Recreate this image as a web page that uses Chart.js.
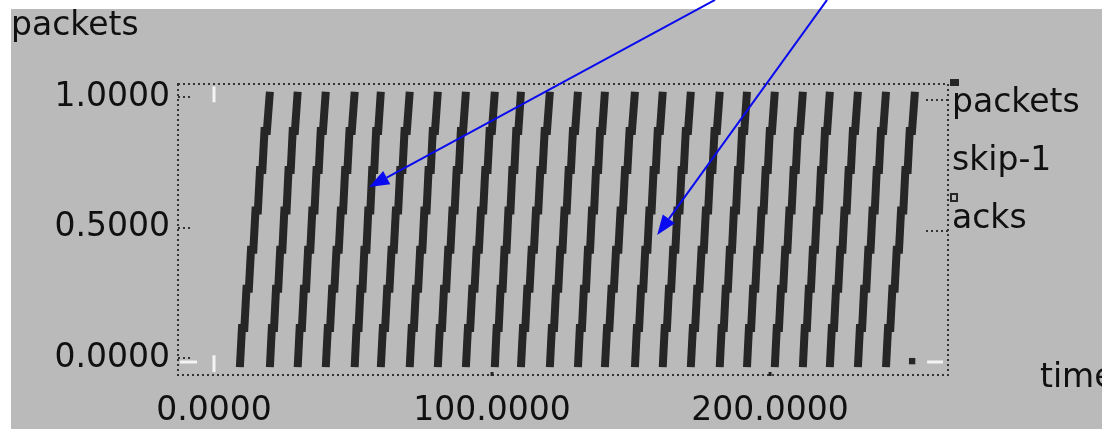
<!DOCTYPE html>
<html>
<head>
<meta charset="utf-8">
<script src="https://cdn.jsdelivr.net/npm/chart.js@4/dist/chart.umd.min.js"></script>
<style>
html,body{margin:0;padding:0;background:#fff;overflow:hidden;}
canvas{display:block;}
</style>
</head>
<body>
<canvas id="c" width="1102" height="429"></canvas>
<script>
// ---- data ----
const rampStarts = [9.3, 20.1, 30.1, 40.2, 50.6, 60.0, 70.4, 80.5, 90.6, 101.0, 110.4, 120.8,
                    130.9, 140.6, 151.4, 161.4, 171.5, 181.9, 191.7, 201.7, 211.8, 221.5, 231.6, 241.7];
const rampEnds   = [20.1, 30.1, 40.2, 50.6, 60.0, 70.4, 80.5, 90.6, 101.0, 110.4, 120.8, 130.9,
                    140.6, 151.4, 161.4, 171.5, 181.9, 191.7, 201.7, 211.8, 221.5, 231.6, 241.7, 252.1];
// each ramp is a staircase of 7 slightly slanted segments
const segBottomFrac = [0, 0.15, 0.30, 0.45, 0.60, 0.75, 0.90];
const segTopFrac    = [0.07, 0.22, 0.37, 0.52, 0.67, 0.82, 1.00];
const stepLevels    = [-0.035, 0.115, 0.265, 0.415, 0.565, 0.72, 0.87, 1.02];
const endMarker = [{x: 251.1, y: -0.012}];
const ackSegments = [
  [{x: 0, y: 1.04}, {x: 0, y: 0.98}],
  [{x: 0, y: 0.011}, {x: 0, y: -0.054}],
  [{x: -12.2, y: -0.015}, {x: -6.1, y: -0.015}],
  [{x: 256.5, y: -0.015}, {x: 262.2, y: -0.015}]
];
const xTicks = [0, 100, 200];
const yTicks = [0, 0.5, 1.0];
const legendLabels = ['packets', 'skip-1', 'acks'];
const arrows = [
  {from: {x: 180.2, y: 1.372}, to: {x: 55.8, y: 0.655}},
  {from: {x: 220.5, y: 1.372}, to: {x: 159.4, y: 0.471}}
];

// ---- build library data ----
const packetPts = [];
rampStarts.forEach((s, i) => {
  const e = rampEnds[i];
  for (let j = 0; j < segBottomFrac.length; j++) {
    packetPts.push({x: s + (e - s) * segBottomFrac[j], y: stepLevels[j]});
    packetPts.push({x: s + (e - s) * segTopFrac[j], y: stepLevels[j + 1]});
  }
  packetPts.push({x: e, y: null});
});
const ackPts = [];
ackSegments.forEach(seg => { ackPts.push(seg[0], seg[1], {x: seg[1].x, y: null}); });

const FONT = "'DejaVu Sans', 'Liberation Sans', Arial, sans-serif";
const TXT = '#101010';

const bgPlugin = {
  id: 'bg',
  beforeDraw(chart) {
    const c = chart.ctx;
    c.save();
    c.fillStyle = '#ffffff';
    c.fillRect(0, 0, chart.width, chart.height);
    c.fillStyle = '#bababa';
    c.fillRect(11, 9, chart.width - 11, chart.height - 9);
    c.restore();
  }
};

const overlayPlugin = {
  id: 'overlay',
  beforeDatasetsDraw(chart) {
    const c = chart.ctx, a = chart.chartArea;
    const xs = chart.scales.x, ys = chart.scales.y;
    c.save();
    c.strokeStyle = '#333';
    c.lineWidth = 2;
    c.setLineDash([2, 3]);
    c.strokeRect(a.left, a.top, a.right - a.left, a.bottom - a.top);
    // inner tick marks
    yTicks.forEach(v => {
      const py = Math.round(ys.getPixelForValue(v));
      c.beginPath(); c.moveTo(a.left, py); c.lineTo(a.left + 13, py); c.stroke();
      if (v > 0) { c.beginPath(); c.moveTo(a.right - 22, py + 3); c.lineTo(a.right, py + 3); c.stroke(); }
    });
    c.setLineDash([]);
    xTicks.forEach(v => {
      if (v === 0) return;
      const px = xs.getPixelForValue(v);
      c.fillStyle = '#222';
      c.fillRect(px - 1.5, a.bottom - 3, 3, 4);
    });
    c.restore();
  },
  afterDraw(chart) {
    const c = chart.ctx, a = chart.chartArea;
    const xs = chart.scales.x, ys = chart.scales.y;
    c.save();
    c.fillStyle = TXT;
    c.font = '33px ' + FONT;
    c.textBaseline = 'alphabetic';
    c.textAlign = 'left';
    c.fillText('packets', 11, 35);
    legendLabels.forEach((t, i) => c.fillText(t, a.right + 4, [112, 170, 228][i]));
    c.fillText('time', 1040, 387);
    // legend markers
    c.fillStyle = '#262626';
    c.fillRect(a.right + 2, a.top - 5, 9, 7);
    c.strokeStyle = '#262626';
    c.lineWidth = 2;
    c.strokeRect(a.right + 3, a.top + 110, 6, 7);
    // arrows
    c.strokeStyle = '#0a0af0';
    c.fillStyle = '#0a0af0';
    arrows.forEach(ar => {
      const x1 = xs.getPixelForValue(ar.from.x), y1 = ys.getPixelForValue(ar.from.y);
      const x2 = xs.getPixelForValue(ar.to.x), y2 = ys.getPixelForValue(ar.to.y);
      const ang = Math.atan2(y2 - y1, x2 - x1);
      const L = 20, W = 7.5;
      const bx = x2 - L * Math.cos(ang), by = y2 - L * Math.sin(ang);
      c.lineWidth = 2;
      c.beginPath(); c.moveTo(x1, y1); c.lineTo(bx, by); c.stroke();
      c.beginPath();
      c.moveTo(x2, y2);
      c.lineTo(bx + W * Math.sin(ang), by - W * Math.cos(ang));
      c.lineTo(bx - W * Math.sin(ang), by + W * Math.cos(ang));
      c.closePath(); c.fill();
    });
    c.restore();
  }
};

new Chart(document.getElementById('c'), {
  type: 'scatter',
  data: {
    datasets: [
      {label: 'packets', data: packetPts, showLine: true, borderColor: '#262626', borderWidth: 8,
       pointRadius: 0, spanGaps: false, borderCapStyle: 'butt', borderJoinStyle: 'miter', tension: 0},
      {label: 'acks', data: ackPts, showLine: true, borderColor: '#f4f4f4', borderWidth: 3,
       pointRadius: 0, spanGaps: false, tension: 0},
      {label: 'end', data: endMarker, pointStyle: 'rect', pointRadius: 4.5,
       backgroundColor: '#262626', borderWidth: 0}
    ]
  },
  options: {
    responsive: false,
    animation: false,
    devicePixelRatio: 1,
    layout: {padding: {top: 84, right: 154, left: 0, bottom: 0}},
    plugins: {legend: {display: false}, tooltip: {enabled: false}},
    scales: {
      x: {
        type: 'linear', min: -12.95, max: 264,
        afterBuildTicks: s => { s.ticks = xTicks.map(v => ({value: v})); },
        afterFit: s => { s.height = 54; },
        grid: {display: false, drawTicks: false},
        border: {display: false},
        ticks: {callback: v => Number(v).toFixed(4), font: {family: FONT, size: 33}, color: TXT,
                padding: 17, maxRotation: 0, autoSkip: false}
      },
      y: {
        type: 'linear', min: -0.0651, max: 1.0498,
        afterBuildTicks: s => { s.ticks = yTicks.map(v => ({value: v})); },
        afterFit: s => { s.width = 178; },
        grid: {display: false, drawTicks: false},
        border: {display: false},
        ticks: {callback: v => Number(v).toFixed(4), font: {family: FONT, size: 33}, color: TXT,
                padding: 8, autoSkip: false}
      }
    }
  },
  plugins: [bgPlugin, overlayPlugin]
});
</script>
</body>
</html>
